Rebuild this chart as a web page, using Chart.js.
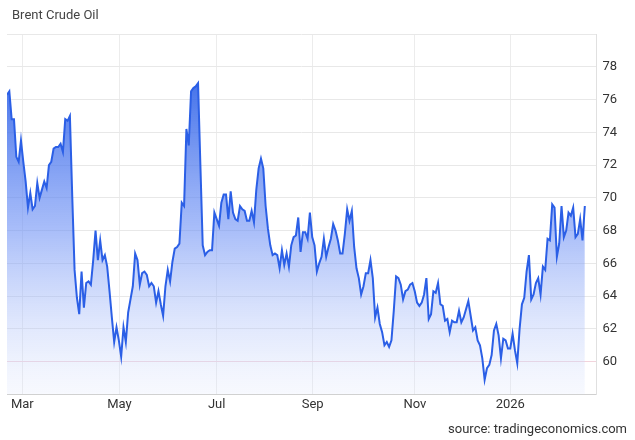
<!DOCTYPE html>
<html>
<head>
<meta charset="utf-8">
<script src="https://cdn.jsdelivr.net/npm/chart.js@4"></script>
<style>
    body { margin: 0; background: #fff; font-family: Roboto, "Open Sans", sans-serif; }
    #wrap { position: relative; width: 635px; height: 440px; }
    #title { position: absolute; left: 12px; top: 7px; font-size: 13px; color: #444; }
    #source { position: absolute; right: 8px; top: 421px; font-size: 13px; color: #333; }
    canvas { position: absolute; left: 0; top: 0; }
</style>
</head>
<body>
<div id="wrap">
    <canvas id="chart" width="635" height="440"></canvas>
    <div id="title">Brent Crude Oil</div>
    <div id="source">source: tradingeconomics.com</div>
</div>
<script>
// Brent daily closes, Feb 2025 - Feb 2026
const prices = [
    76.3, 76.5, 74.8, 74.8, 72.5, 72.2, 73.5, 72.2, 71.0, 69.4, 70.3, 69.3, 69.5, 70.9, 70.0,
    70.5, 71.0, 70.6, 72.0, 72.2, 73.0, 73.1, 73.1, 73.3, 72.8, 74.8, 74.7, 75.0, 70.1, 65.6,
    63.9, 62.9, 65.5, 63.3, 64.8, 64.9, 64.7, 66.2, 68.0, 66.2, 67.4, 66.2, 66.5, 65.8, 64.3,
    62.7, 61.2, 62.1, 61.3, 60.3, 62.1, 61.2, 63.0, 63.8, 64.6, 66.6, 66.2, 64.7, 65.4, 65.5,
    65.3, 64.6, 64.8, 64.6, 63.6, 64.3, 63.5, 62.8, 64.6, 65.6, 64.9, 66.1, 66.9, 67.0, 67.2,
    69.7, 69.5, 74.2, 73.2, 76.5, 76.7, 76.8, 77.0, 72.0, 67.1, 66.5, 66.7, 66.8, 66.8, 69.1,
    68.7, 68.3, 69.7, 70.2, 70.2, 68.7, 70.4, 69.1, 68.7, 68.6, 69.5, 69.3, 69.2, 68.6, 68.6,
    69.2, 68.5, 70.5, 71.8, 72.4, 71.8, 69.5, 68.1, 67.1, 66.5, 66.6, 66.5, 65.7, 66.8, 65.9,
    66.6, 65.8, 67.1, 67.6, 67.7, 68.8, 66.7, 67.9, 67.9, 67.5, 69.1, 67.6, 67.1, 65.5, 66.0,
    66.4, 67.5, 66.4, 67.0, 67.5, 68.4, 68.0, 67.4, 66.6, 66.6, 67.8, 69.3, 68.6, 69.2, 67.0,
    65.7, 65.1, 64.1, 64.6, 65.4, 65.4, 66.2, 65.1, 62.7, 63.3, 62.3, 61.8, 61.0, 61.2, 60.9,
    61.3, 63.1, 65.2, 65.1, 64.7, 63.8, 64.3, 64.4, 64.7, 64.8, 64.3, 63.6, 63.4, 63.6, 64.1,
    65.1, 62.6, 62.9, 64.3, 64.2, 64.8, 63.5, 63.4, 62.5, 62.6, 61.8, 62.5, 62.4, 62.4, 63.1,
    62.4, 62.7, 63.2, 63.7, 62.8, 61.9, 62.1, 61.3, 61.0, 60.2, 58.9, 59.6, 59.8, 60.4, 61.9,
    62.3, 61.6, 60.2, 61.4, 61.3, 60.8, 60.8, 61.7, 60.7, 59.9, 62.0, 63.5, 63.9, 65.5, 66.5,
    63.8, 64.1, 64.8, 65.1, 64.1, 65.8, 65.6, 67.5, 67.4, 69.6, 69.4, 66.4, 67.2, 69.5, 67.6,
    68.0, 69.1, 68.9, 69.4, 67.6, 67.8, 68.7, 67.4, 69.5
];

// Month tick labels and where they fall along the series (share of the plotted span)
const monthLabels = ['Mar', 'May', 'Jul', 'Sep', 'Nov', '2026'];
const monthPositions = [0.0265, 0.1947, 0.3628, 0.529, 0.706, 0.871];
const yTicks = [60, 62, 64, 66, 68, 70, 72, 74, 76, 78];

const last = prices.length - 1;
const tickIndex = monthPositions.map(p => p * last);
const points = prices.map((v, i) => ({ x: i, y: v }));

const ctx = document.getElementById('chart').getContext('2d');

new Chart(ctx, {
    type: 'line',
    data: {
        datasets: [{
            data: points,
            borderColor: '#2b5fe6',
            borderWidth: 2,
            pointRadius: 0,
            tension: 0,
            fill: 'start',
            backgroundColor: (context) => {
                const area = context.chart.chartArea;
                if (!area) return 'rgba(43,95,230,0.5)';
                const g = context.chart.ctx.createLinearGradient(0, area.top + 30, 0, area.bottom);
                g.addColorStop(0, 'rgba(43,95,230,0.95)');
                g.addColorStop(0.5, 'rgba(110,145,245,0.6)');
                g.addColorStop(1, 'rgba(225,232,252,0.25)');
                return g;
            }
        }]
    },
    options: {
        responsive: false,
        animation: false,
        layout: { padding: { left: 7, top: 34, right: 12, bottom: 24 } },
        plugins: { legend: { display: false }, tooltip: { enabled: false } },
        scales: {
            x: {
                type: 'linear',
                min: 0,
                max: last * 1.02,
                afterBuildTicks: (axis) => {
                    axis.ticks = tickIndex.map(v => ({ value: v }));
                },
                ticks: {
                    autoSkip: false,
                    maxRotation: 0,
                    color: '#333',
                    font: { size: 13, family: 'Roboto' },
                    callback: (value, i) => monthLabels[i]
                },
                grid: { color: '#ececec', drawTicks: false },
                border: { color: '#d0d0d0' }
            },
            y: {
                position: 'right',
                min: 58,
                max: 80,
                afterBuildTicks: (axis) => {
                    axis.ticks = [58].concat(yTicks, [80]).map(v => ({ value: v }));
                },
                ticks: {
                    color: '#333',
                    padding: 6,
                    font: { size: 13, family: 'Roboto' },
                    callback: (value) => yTicks.includes(value) ? value : ''
                },
                grid: {
                    color: (c) => c.tick && c.tick.value === 60 ? '#f2d4dc' : '#e8e8e8',
                    drawTicks: false
                },
                border: { color: '#e0e0e0' }
            }
        }
    }
});
</script>
</body>
</html>
